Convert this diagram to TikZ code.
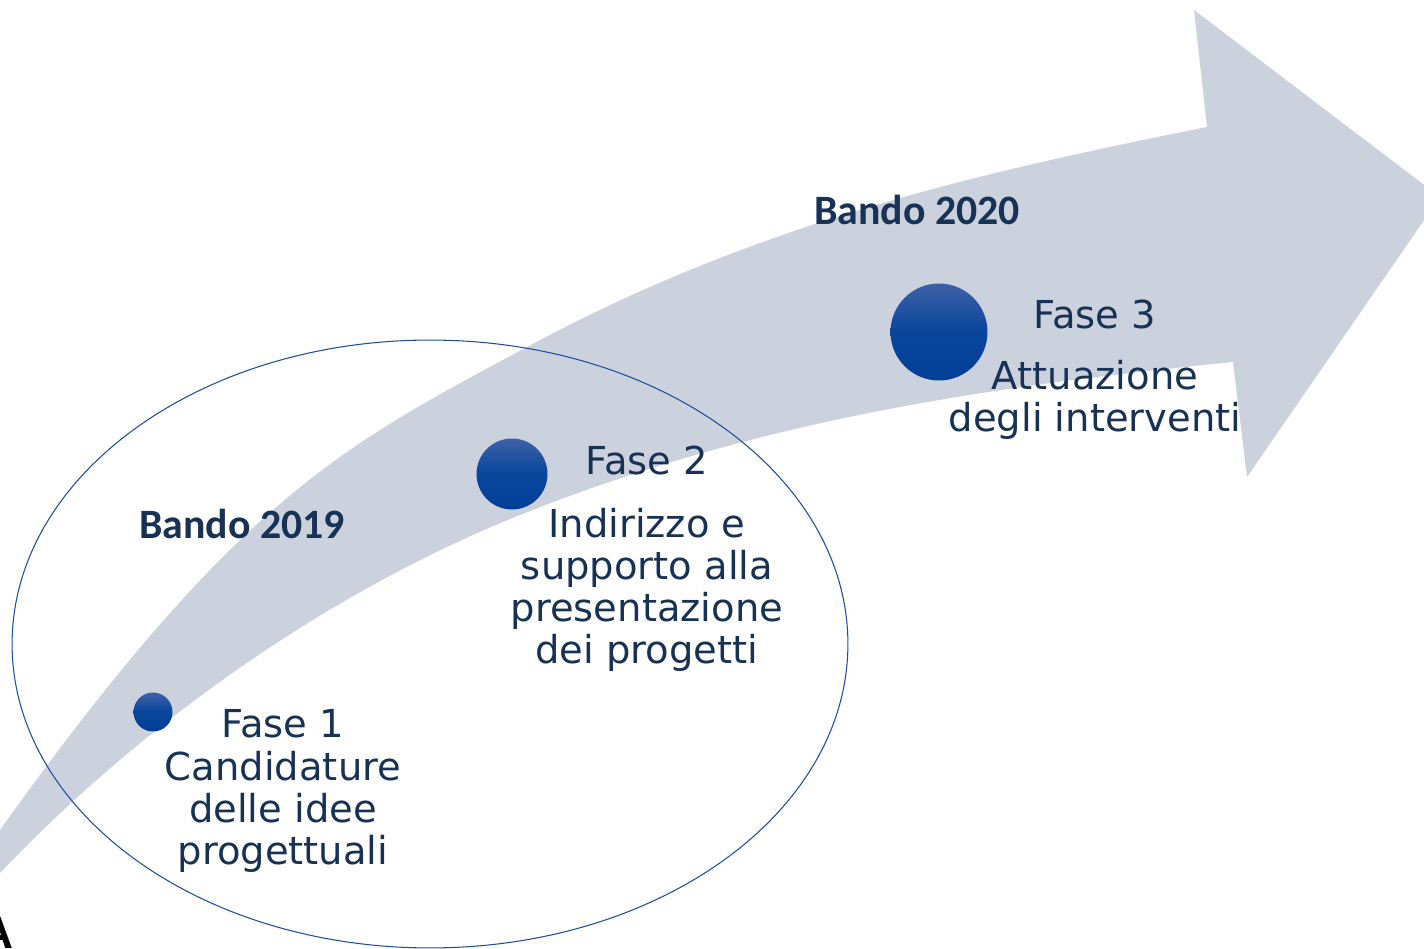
\documentclass[tikz,border=0pt]{standalone}
\usepackage{fontspec}
\setmainfont{DejaVu Sans}
\newfontfamily\bandofont{Carlito}
\newfontfamily\cutfont{Liberation Sans}
\definecolor{arrowgrey}{RGB}{203,209,221}
\definecolor{navytext}{RGB}{24,50,86}
\definecolor{ringblue}{RGB}{31,78,158}
\definecolor{dottop}{RGB}{62,96,165}
\definecolor{dotmid}{RGB}{8,70,156}
\definecolor{dotbot}{RGB}{0,64,150}
\tikzset{
  fasedot/.style={circle,inner sep=0pt,top color=dottop,bottom color=dotbot,middle color=dotmid},
  fasetitle/.style={anchor=base,text=navytext,font=\fontsize{21.9}{24}\selectfont},
  fasetext/.style={align=center,text=navytext,font=\fontsize{21.9}{24}\selectfont},
  bando/.style={anchor=base,text=navytext,font=\bandofont\bfseries\fontsize{23.8}{26}\selectfont},
  ring/.style={draw=ringblue,line width=0.6pt}
}

\begin{document}
\begin{tikzpicture}[x=0.02cm,y=-0.02cm]
  \useasboundingbox (0,0) rectangle (1424,949);
  \begin{scope}
    \clip (0,0) rectangle (1424,949);
    % curved arrow
    \fill[arrowgrey] (-40,886) -- (0,830)
      .. controls (240,494) and (347,444) .. (527,347)
      .. controls (757,223) and (977,173) .. (1207,127)
      -- (1194,10) -- (1440,197) -- (1247,477) -- (1233,362)
      .. controls (993,386) and (760,419) .. (520,515)
      .. controls (350,583) and (160,705) .. (0,873)
      -- (-40,915) -- cycle;
    \draw[ring] (430,644) ellipse [x radius=8.36cm, y radius=6.08cm];
    \node[anchor=base,font=\cutfont\bfseries\fontsize{26}{28}\selectfont] (cutA) at (-3,948) {A};
  \end{scope}

  % phases
  \node[fasedot,minimum size=0.78cm] (dot1) at (153,712) {};
  \node[fasedot,minimum size=1.42cm] (dot2) at (512,474) {};
  \node[fasedot,minimum size=1.94cm] (dot3) at (939,332) {};

  \node[fasetitle] (fase1) at (283,737) {Fase 1};
  \node[fasetext] (idee) at (283,812) {Candidature\\delle idee\\progettuali};
  \node[fasetitle] (fase2) at (647,475) {Fase 2};
  \node[fasetext] (progetti) at (647,590) {Indirizzo e\\supporto alla\\presentazione\\dei progetti};
  \node[fasetitle] (fase3) at (1095,329) {Fase 3};
  \node[fasetext] (interventi) at (1095,400) {Attuazione\\degli interventi};

  \node[bando] (bando19) at (242,539) {Bando 2019};
  \node[bando] (bando20) at (917,225) {Bando 2020};
\end{tikzpicture}
\end{document}
